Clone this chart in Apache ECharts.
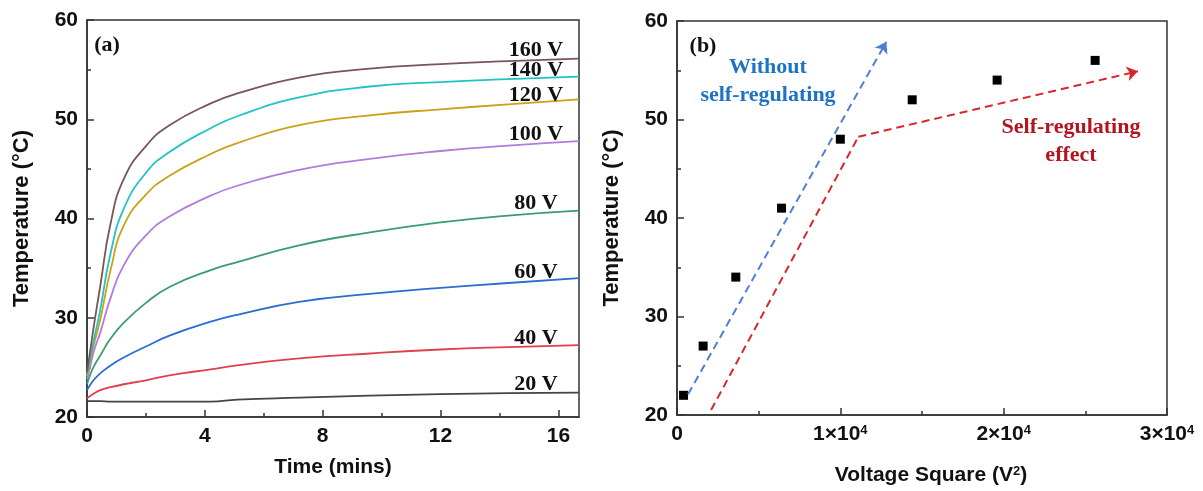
<!DOCTYPE html>
<html><head><meta charset="utf-8">
<style>html,body{margin:0;padding:0;background:#fff}#c{width:1203px;height:491px}</style>
<script src="https://cdn.jsdelivr.net/npm/echarts@6.0.0/dist/echarts.min.js"></script>
</head><body><div id="c"></div>
<script>
// ---------- Panel (a): temperature vs time ----------
const timeMin = [0, 0.1, 0.25, 0.45, 0.8, 1.25, 2, 2.8, 4.2, 5.1, 7.2, 9.6, 12, 14.3, 16.7];
const temp20V  = [21.6, 21.6, 21.6, 21.6, 21.55, 21.55, 21.55, 21.55, 21.55, 21.75, 21.95, 22.15, 22.3, 22.4, 22.45];
const temp40V  = [21.9, 22.1, 22.4, 22.7, 23.0, 23.3, 23.7, 24.2, 24.8, 25.2, 25.9, 26.4, 26.8, 27.05, 27.25];
const temp60V  = [22.7, 23.2, 23.8, 24.4, 25.2, 26.0, 27.1, 28.2, 29.6, 30.3, 31.6, 32.4, 33.0, 33.5, 34.0];
const temp80V  = [23.3, 24.2, 25.2, 26.2, 27.9, 29.5, 31.5, 33.1, 34.8, 35.6, 37.3, 38.6, 39.6, 40.3, 40.8];
const temp100V = [23.8, 25.0, 26.8, 28.5, 32.0, 35.3, 38.3, 40.2, 42.3, 43.3, 44.9, 46.0, 46.8, 47.35, 47.8];
const temp120V = [24.1, 25.5, 27.5, 29.8, 34.8, 39.3, 42.4, 44.3, 46.5, 47.6, 49.4, 50.4, 51.0, 51.5, 52.0];
const temp140V = [24.3, 25.8, 28.0, 30.8, 36.5, 41.0, 44.6, 46.7, 49.1, 50.3, 52.2, 53.3, 53.75, 54.05, 54.3];
const temp160V = [24.5, 26.5, 29.5, 33.2, 39.5, 44.0, 47.3, 49.4, 51.6, 52.6, 54.2, 55.1, 55.55, 55.85, 56.1];
const voltageNames = ['20 V', '40 V', '60 V', '80 V', '100 V', '120 V', '140 V', '160 V'];
const timeTicks = [0, 4, 8, 12, 16];
const timeMinorTicks = [2, 6, 10, 14];

// ---------- Panel (b): temperature vs voltage square ----------
const voltSquare = [400, 1600, 3600, 6400, 10000, 14400, 19600, 25600];
const steadyTemp = [22, 27, 34, 41, 48, 52, 54, 56];
const noRegX = [675, 12820];
const noRegY = [22.1, 57.9];
const selfRegX = [2086, 11104, 28220];
const selfRegY = [20.5, 48.25, 54.9];

// ---------- styles ----------
const SANS = '"Liberation Sans", Arial, sans-serif';
const SERIF = '"Liberation Serif", "Times New Roman", serif';
const AX = '#333';
const curveColors = ['#444444', '#e0404c', '#2a6dd2', '#3a9d6e', '#b27be0', '#c9a21a', '#22c3c3', '#7a5558'];
const labelDy = [-8, -7, -6, -7, -7, -4.5, -6, -8];
const tempSeries = [temp20V, temp40V, temp60V, temp80V, temp100V, temp120V, temp140V, temp160V];

const tickLabel = { fontFamily: SANS, fontWeight: 'bold', fontSize: 21, color: '#111' };
const nameStyle = { fontFamily: SANS, fontWeight: 'bold', fontSize: 21, color: '#111' };
const yNameStyle = { fontFamily: SANS, fontWeight: 'bold', fontSize: 22, color: '#111' };
const supStyle = { fontFamily: SANS, fontWeight: 'bold', fontSize: 13, color: '#111', verticalAlign: 'top', lineHeight: 12 };

function yAxisFor(grid) {
  return {
    type: 'value', gridIndex: grid, min: 20, max: 60, interval: 10,
    name: 'Temperature (°C)', nameLocation: 'middle', nameGap: 54, nameTextStyle: yNameStyle,
    axisLine: { show: true, lineStyle: { color: AX, width: 1.5 } },
    axisTick: { show: true, inside: true, length: 7, lineStyle: { color: AX, width: 1.5 } },
    minorTick: { show: true, splitNumber: 2, length: 4, lineStyle: { color: AX, width: 1.5 } },
    axisLabel: Object.assign({ margin: 9 }, tickLabel),
    splitLine: { show: false }
  };
}

const series = [];
tempSeries.forEach((arr, i) => {
  series.push({
    type: 'line', name: voltageNames[i], xAxisIndex: 0, yAxisIndex: 0,
    data: timeMin.map((t, k) => [t, arr[k]]),
    showSymbol: false, symbol: 'none', smooth: 0.5,
    lineStyle: { color: curveColors[i], width: 1.8 },
    itemStyle: { color: curveColors[i] },
    endLabel: {
      show: true, formatter: '{a}', align: 'center', verticalAlign: 'middle',
      offset: [-51, labelDy[i]],
      fontFamily: SERIF, fontWeight: 'bold', fontSize: 22, color: '#111'
    },
    silent: true, animation: false
  });
});

series.push({
  type: 'scatter', xAxisIndex: 2, yAxisIndex: 1,
  data: voltSquare.map((v, i) => [v, steadyTemp[i]]),
  symbol: 'rect', symbolSize: 9, itemStyle: { color: '#000', opacity: 1 }, silent: true, animation: false
});

const BLUE = '#4f7fd4', RED = '#d9262e';
const dash = [8, 5];
series.push({
  type: 'line', xAxisIndex: 2, yAxisIndex: 1, data: [], animation: false,
  markLine: {
    silent: true, animation: false, symbol: ['none', 'arrow'], symbolSize: 11,
    label: { show: false },
    lineStyle: { type: dash, width: 2 },
    data: [
      [{ coord: [noRegX[0], noRegY[0]], lineStyle: { color: BLUE, type: dash, width: 2 }, itemStyle: { color: BLUE } },
       { coord: [noRegX[1], noRegY[1]] }],
      [{ coord: [selfRegX[0], selfRegY[0]], symbol: 'none', lineStyle: { color: RED, type: dash, width: 2 }, itemStyle: { color: RED } },
       { coord: [selfRegX[1], selfRegY[1]], symbol: 'none' }],
      [{ coord: [selfRegX[1], selfRegY[1]], lineStyle: { color: RED, type: dash, width: 2 }, itemStyle: { color: RED } },
       { coord: [selfRegX[2], selfRegY[2]] }]
    ]
  }
});

const option = {
  backgroundColor: '#fff',
  animation: false,
  grid: [
    { left: 87, top: 20, width: 492, height: 397, show: true, borderColor: AX, borderWidth: 1.5, containLabel: false },
    { left: 677, top: 21, width: 490, height: 395, show: true, borderColor: AX, borderWidth: 1.5, containLabel: false }
  ],
  xAxis: [
    {
      type: 'value', gridIndex: 0, min: 0, max: 16.7, interval: 4, position: 'bottom',
      name: 'Time (mins)', nameLocation: 'middle', nameGap: 40, nameTextStyle: nameStyle,
      axisLine: { show: true, lineStyle: { color: AX, width: 1.5 } },
      axisTick: { show: true, inside: true, length: 7, customValues: timeTicks, lineStyle: { color: AX, width: 1.5 } },
      axisLabel: Object.assign({ margin: 9, customValues: timeTicks }, tickLabel),
      splitLine: { show: false }
    },
    {
      type: 'value', gridIndex: 0, min: 0, max: 16.7, position: 'bottom',
      axisLine: { show: false },
      axisTick: { show: true, inside: true, length: 4, customValues: timeMinorTicks, lineStyle: { color: AX, width: 1.5 } },
      axisLabel: { show: false }, splitLine: { show: false }
    },
    {
      type: 'value', gridIndex: 1, min: 0, max: 30000, interval: 10000, position: 'bottom',
      name: 'Voltage Square (V{sup|2})', nameLocation: 'middle', nameGap: 50,
      nameTextStyle: Object.assign({ padding: [0, 0, 0, 18], rich: { sup: supStyle } }, nameStyle),
      axisLine: { show: true, lineStyle: { color: AX, width: 1.5 } },
      axisTick: { show: true, inside: true, length: 7, lineStyle: { color: AX, width: 1.5 } },
      minorTick: { show: true, splitNumber: 2, length: 4, lineStyle: { color: AX, width: 1.5 } },
      axisLabel: Object.assign({
        margin: 9,
        formatter: v => v === 0 ? '0' : (v / 10000) + '×10{sup|4}',
        rich: { sup: supStyle }
      }, tickLabel),
      splitLine: { show: false }
    }
  ],
  yAxis: [yAxisFor(0), yAxisFor(1)],
  graphic: [
    { type: 'text', silent: true, style: { x: 107, y: 45, text: '(a)', align: 'center', verticalAlign: 'middle', font: 'bold 22px ' + SERIF, fill: '#111' } },
    { type: 'text', silent: true, style: { x: 703, y: 46, text: '(b)', align: 'center', verticalAlign: 'middle', font: 'bold 22px ' + SERIF, fill: '#111' } },
    { type: 'text', silent: true, style: { x: 768, y: 67, text: 'Without', align: 'center', verticalAlign: 'middle', font: 'bold 22px ' + SERIF, fill: '#1f73c4' } },
    { type: 'text', silent: true, style: { x: 768, y: 95, text: 'self-regulating', align: 'center', verticalAlign: 'middle', font: 'bold 22px ' + SERIF, fill: '#1f73c4' } },
    { type: 'text', silent: true, style: { x: 1071, y: 127, text: 'Self-regulating', align: 'center', verticalAlign: 'middle', font: 'bold 22px ' + SERIF, fill: '#b3141f' } },
    { type: 'text', silent: true, style: { x: 1071, y: 155, text: 'effect', align: 'center', verticalAlign: 'middle', font: 'bold 22px ' + SERIF, fill: '#b3141f' } }
  ],
  series: series
};

const chart = echarts.init(document.getElementById('c'), null, { renderer: 'canvas' });
chart.setOption(option);
</script>
</body></html>
